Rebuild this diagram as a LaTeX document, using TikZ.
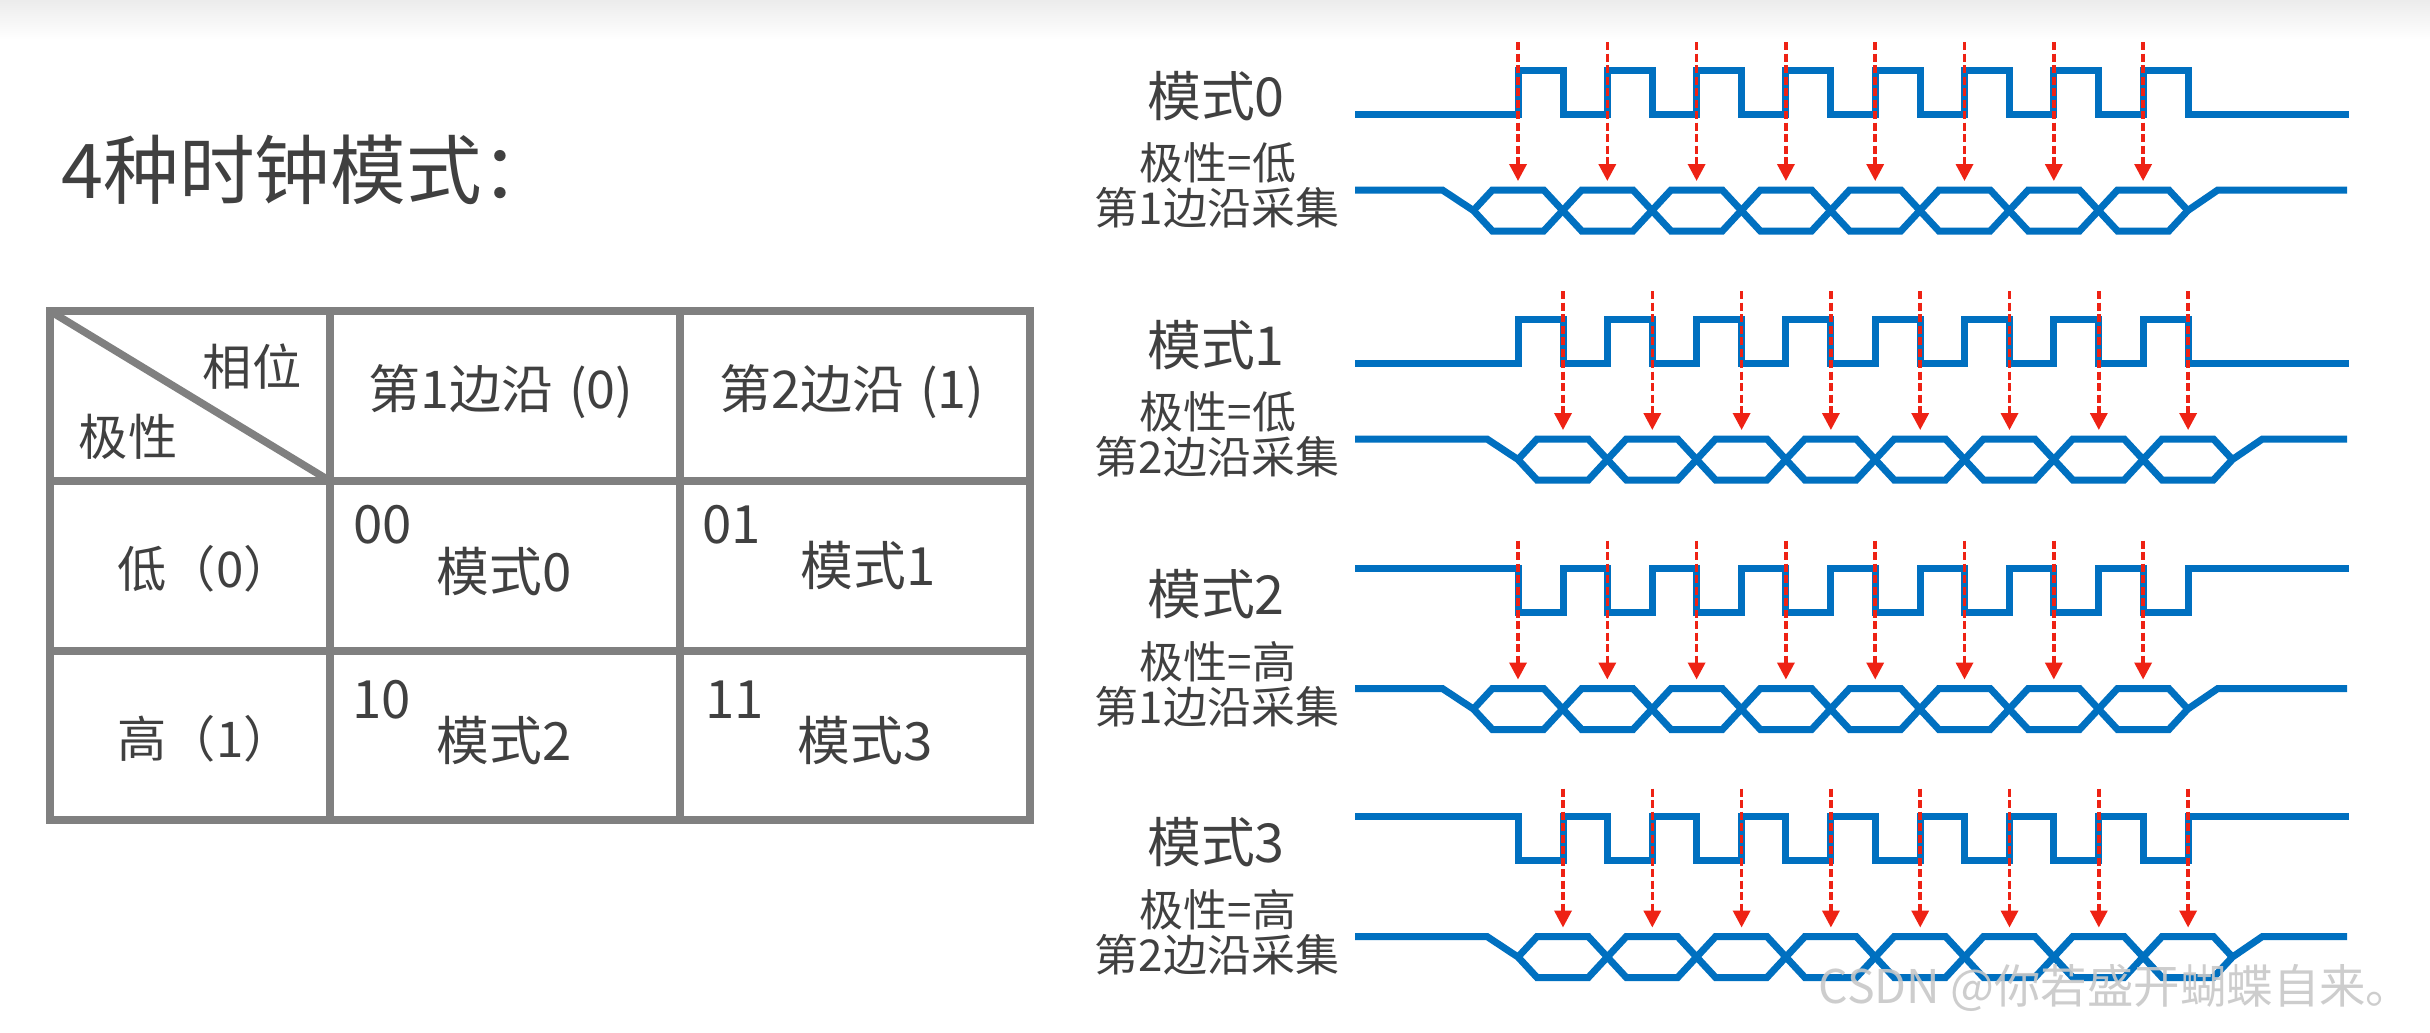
\documentclass[tikz,border=0pt]{standalone}
\usepackage{fontspec}
\setmainfont{Noto Sans CJK SC}
\usetikzlibrary{arrows.meta}
\definecolor{txt}{RGB}{64,64,64}
\definecolor{tgray}{RGB}{128,128,128}
\definecolor{wblue}{RGB}{0,112,192}
\definecolor{ared}{RGB}{238,34,20}
\definecolor{wmark}{RGB}{200,200,200}
\definecolor{topband}{RGB}{236,236,236}
\begin{document}
\begin{tikzpicture}[x=0.01cm,y=-0.01cm,
  wavel/.style={draw=wblue, line width=0.07cm, line join=miter, line cap=butt},
  samp/.style={draw=ared, line width=0.035cm, dash pattern=on 0.08cm off 0.035cm, -{Triangle[width=0.17cm,length=0.17cm]}},
  tblline/.style={draw=tgray, line width=0.075cm},
  ttl/.style={text=txt, font=\fontsize{21.5pt}{24pt}\selectfont, inner sep=0pt},
  hdr/.style={text=txt, font=\fontsize{14pt}{16pt}\selectfont, inner sep=0pt},
  colhdr/.style={text=txt, font=\fontsize{14.8pt}{17pt}\selectfont, inner sep=0pt},
  celltxt/.style={text=txt, font=\fontsize{15pt}{17pt}\selectfont, inner sep=0pt},
  mname/.style={text=txt, font=\fontsize{15.3pt}{17pt}\selectfont, inner sep=0pt},
  mdesc/.style={text=txt, font=\fontsize{12.5pt}{14pt}\selectfont, inner sep=0pt},
  wmk/.style={text=wmark, font=\fontsize{13.2pt}{15pt}\selectfont, inner sep=0pt, opacity=0.9},
]
% background
\fill[white] (0,0) rectangle (2430,1032);
\useasboundingbox (0,0) rectangle (2430,1032);
\shade[top color=topband, bottom color=white] (0,0) rectangle (2430,40);

% title
\node[ttl, anchor=west] (title) at (61,170) {4种时钟模式：};

% table
\coordinate (tl) at (50,311);
\coordinate (br) at (1030,820);
\coordinate (c1t) at (330,311); \coordinate (c1b) at (330,820);
\coordinate (c2t) at (680,311); \coordinate (c2b) at (680,820);
\coordinate (r1l) at (50,481);  \coordinate (r1r) at (1030,481);
\coordinate (r2l) at (50,651);  \coordinate (r2r) at (1030,651);
\coordinate (dg) at (330,481);
\draw[tblline] (tl) rectangle (br);
\draw[tblline] (c1t) -- (c1b);
\draw[tblline] (c2t) -- (c2b);
\draw[tblline] (r1l) -- (r1r);
\draw[tblline] (r2l) -- (r2r);
\draw[tblline] (tl) -- (dg);

\node[hdr] (xw) at (252,367) {相位};
\node[hdr] (jx) at (128,437) {极性};
\node[colhdr] (h1) at (501,392) {第1边沿\hspace{0.3em}(0)};
\node[colhdr] (h2) at (852,392) {第2边沿\hspace{0.3em}(1)};
\node[hdr, anchor=west] (r0) at (117,569) {低（0）};
\node[hdr, anchor=west] (r1) at (117,739) {高（1）};

\node[celltxt, anchor=west] (c00) at (353,525) {00};
\node[celltxt, anchor=west] (m00) at (436,571) {模式0};
\node[celltxt, anchor=west] (c01) at (702,525) {01};
\node[celltxt, anchor=west] (m01) at (800,565) {模式1};
\node[celltxt, anchor=west] (c10) at (352,700) {10};
\node[celltxt, anchor=west] (m10) at (436,740) {模式2};
\node[celltxt, anchor=west] (c11) at (705,700) {11};
\node[celltxt, anchor=west] (m11) at (797,740) {模式3};

% timing diagrams
\foreach \mi/\yo/\pol/\edg/\mnm/\plr/\epn in {0/0/0/0/模式0/低/1, 1/249/0/1/模式1/低/2, 2/498.5/1/0/模式2/高/1, 3/746.5/1/1/模式3/高/2} {
  \pgfmathsetmacro\Ya{ifthenelse(\pol==0,114+\yo,70+\yo)}
  \pgfmathsetmacro\Yb{ifthenelse(\pol==0,70+\yo,114+\yo)}
  \pgfmathsetmacro\cz{ifthenelse(\edg==0,1473.4,1518)}
  \pgfmathsetmacro\ax{ifthenelse(\edg==0,1518,1563)}
  \pgfmathsetmacro\T{190+\yo}
  \pgfmathsetmacro\B{231+\yo}
  \pgfmathsetmacro\M{210.5+\yo}
  \pgfmathsetmacro\At{42+\yo}
  \pgfmathsetmacro\Ab{181+\yo}
  % clock
  \draw[wavel] (1355,\Ya) \foreach \k in {0,...,7} { -- ({1518+89.3*\k},\Ya) -- ({1518+89.3*\k},\Yb) -- ({1563+89.3*\k},\Yb) -- ({1563+89.3*\k},\Ya) } -- (2349,\Ya);
  % data line (down branch)
  \draw[wavel] (1355,\T) -- ({\cz-31},\T) -- (\cz,\M) \foreach \j in {0,2,4,6} { -- ({\cz+89.3*\j+19},\B) -- ({\cz+89.3*(\j+1)-19},\B) -- ({\cz+89.3*(\j+1)+19},\T) -- ({\cz+89.3*(\j+2)-19},\T) } -- ({\cz+714.4},\M);
  % data line (up branch)
  \draw[wavel] (\cz,\M) \foreach \j in {0,2,4,6} { -- ({\cz+89.3*\j+19},\T) -- ({\cz+89.3*(\j+1)-19},\T) -- ({\cz+89.3*(\j+1)+19},\B) -- ({\cz+89.3*(\j+2)-19},\B) } -- ({\cz+714.4},\M) -- ({\cz+744.4},\T) -- (2347,\T);
  % sampling arrows
  \foreach \k in {0,...,7} {
    \coordinate (sa\mi\k) at ({\ax+89.3*\k},\At);
    \coordinate (sb\mi\k) at ({\ax+89.3*\k},\Ab);
    \draw[samp] (sa\mi\k) -- (sb\mi\k);
  }
  % labels
  \node[mname] (mn\mi) at (1216,{96+\yo}) {\mnm};
  \node[mdesc] (pl\mi) at (1218,{163+\yo}) {极性=\plr};
  \node[mdesc] (ep\mi) at (1217,{208+\yo}) {第\epn 边沿采集};
}

% watermark
\node[wmk, anchor=west] (wm) at (1818,988) {CSDN @你若盛开蝴蝶自来。};
\end{tikzpicture}
\end{document}
